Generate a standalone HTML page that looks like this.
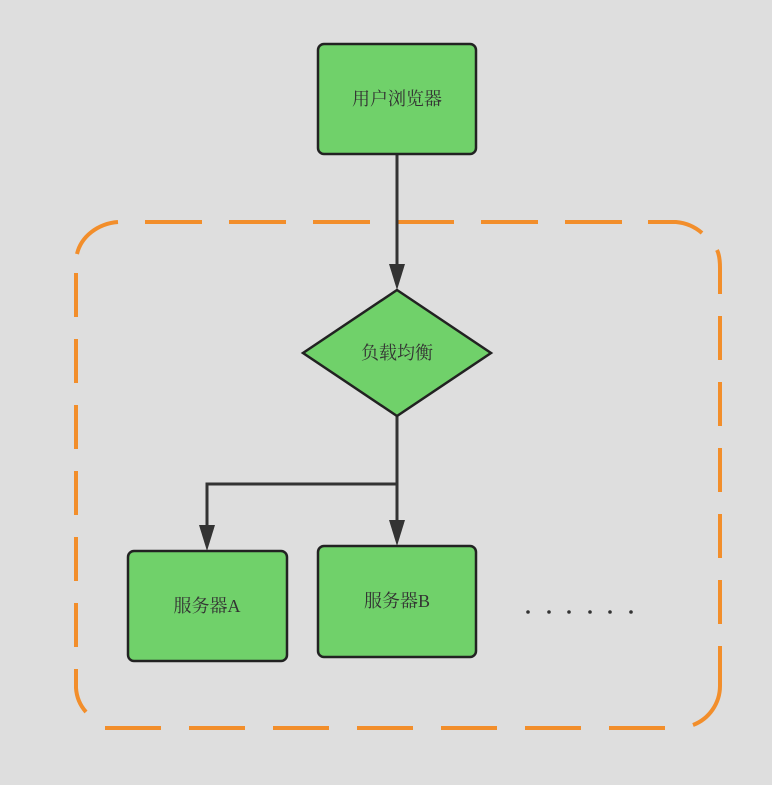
<!DOCTYPE html>
<html><head><meta charset="utf-8"><style>
html,body{margin:0;padding:0;background:#dedede;}
text{font-family:"Liberation Serif","Noto Serif CJK SC","Noto Sans CJK SC",serif;font-size:18px;fill:#333;}
</style></head><body>
<svg width="772" height="780" viewBox="0 0 772 780" xmlns="http://www.w3.org/2000/svg">
<rect width="772" height="780" fill="#dedede"/>
<g fill="none" stroke="#f28e2b" stroke-width="4">
<path d="M77 254 A46 40 0 0 1 118 222"/>
<path d="M145 222 H202 M229 222 H286 M313 222 H370 M397 222 H454 M481 222 H538 M565 222 H622"/>
<path d="M648 222 H676 A44 40 0 0 1 702 233"/>
<path d="M76 273 V317 M76 339 V383 M76 405 V449 M76 471 V515 M76 537 V581 M76 603 V647"/>
<path d="M76 669 V688 A40 40 0 0 0 86 712"/>
<path d="M717 250 Q720 256 720 268 V294 M720 316 V360 M720 382 V426 M720 448 V492 M720 514 V558 M720 580 V624"/>
<path d="M720 646 V686 A42 42 0 0 1 693 725"/>
<path d="M105 728 H161 M189 728 H245 M273 728 H329 M357 728 H413 M441 728 H497 M525 728 H581 M609 728 H665"/>
</g>
<g stroke="#333" stroke-width="3" fill="none">
<line x1="397" y1="154" x2="397" y2="266"/>
<polyline points="397,416 397,522"/>
<polyline points="397,484 207,484 207,527"/>
</g>
<g fill="#333">
<polygon points="389,264 405,264 397,290"/>
<polygon points="389,520 405,520 397,546"/>
<polygon points="199,525 215,525 207,551"/>
<circle cx="528" cy="612" r="1.8"/><circle cx="549" cy="612" r="1.8"/><circle cx="569" cy="612" r="1.8"/>
<circle cx="590" cy="612" r="1.8"/><circle cx="610" cy="612" r="1.8"/><circle cx="631" cy="612" r="1.8"/>
</g>
<g fill="#70d16a" stroke="#222" stroke-width="2.5">
<rect x="318" y="44" width="158" height="110" rx="6"/>
<polygon points="397,290 491,353 397,416 303,353"/>
<rect x="128" y="551" width="159" height="110" rx="6"/>
<rect x="318" y="546" width="158" height="111" rx="6"/>
</g>
<text x="397" y="105" text-anchor="middle">用户浏览器</text>
<text x="397" y="359" text-anchor="middle" font-size="17">负载均衡</text>
<text x="207" y="612" text-anchor="middle">服务器A</text>
<text x="397" y="607" text-anchor="middle">服务器B</text>
</svg>
</body></html>
